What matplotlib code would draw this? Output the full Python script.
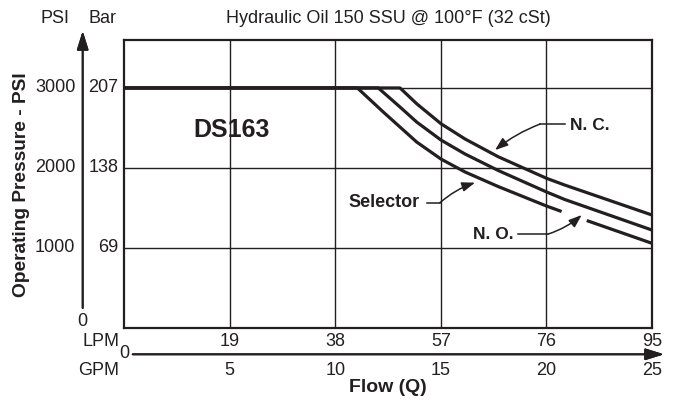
import numpy as np
import matplotlib.pyplot as plt
import matplotlib.transforms as mtransforms

plt.rcParams['font.family'] = ['Liberation Sans', 'DejaVu Sans']

INK = '#231f20'
W, H = 676, 400

# axis ticks: flow in GPM with the matching LPM, pressure in PSI with Bar
gpm_ticks = [5, 10, 15, 20, 25]
lpm_ticks = [19, 38, 57, 76, 95]
psi_ticks = [1000, 2000, 3000]
bar_ticks = [69, 138, 207]

# curves (flow GPM, pressure PSI)
nc_gpm = [0, 13.07, 13.86, 15.01, 16.15, 17.72, 20.01, 20.87, 25.0]
nc_psi = [3000, 3000, 2802, 2552, 2361, 2139, 1869, 1785, 1410]

no_gpm = [0, 12.04, 13.07, 13.86, 15.01, 16.15, 17.72, 20.01, 20.87, 25.0]
no_psi = [3000, 3000, 2761, 2573, 2348, 2173, 1967, 1698, 1604, 1222]

# selector curve is broken where the N.O. arrow crosses it
sel_gpm = [0, 11.05, 12.28, 13.86, 15.01, 16.15, 17.72, 20.01, 20.72, np.nan, 21.91, 25.0]
sel_psi = [3000, 3000, 2698, 2323, 2110, 1948, 1766, 1522, 1454, np.nan, 1341, 1056]


def fx(px):
    return px / W


def fy(py):
    return 1 - py / H


fig = plt.figure(figsize=(6.76, 4.0), dpi=100)
fig.patch.set_facecolor('white')
ax = fig.add_axes([fx(124), fy(327.7), (652 - 124) / W, (327.7 - 40) / H])

ax.set_xlim(0, 25)
ax.set_ylim(0, 3600)
ax.set_xticks(gpm_ticks)
ax.set_yticks(psi_ticks)
ax.tick_params(length=0, labelbottom=False, labelleft=False)
ax.grid(True, color=INK, lw=1.0)
ax.set_axisbelow(True)
for sp in ax.spines.values():
    sp.set_color(INK)
    sp.set_linewidth(1.6)

for g, p in [(nc_gpm, nc_psi), (no_gpm, no_psi), (sel_gpm, sel_psi)]:
    ax.plot(g, p, color=INK, lw=2.3, solid_capstyle='butt', zorder=3)

# tick labels outside the frame
xt = mtransforms.blended_transform_factory(ax.transData, fig.transFigure)
yt = mtransforms.blended_transform_factory(fig.transFigure, ax.transData)
fs = 13
for g, l in zip(gpm_ticks, lpm_ticks):
    ax.text(g, fy(341.7), str(l), transform=xt, ha='center', va='center',
            fontsize=fs, color=INK, clip_on=False)
    ax.text(g, fy(370.7), str(g), transform=xt, ha='center', va='center',
            fontsize=fs, color=INK, clip_on=False)
ax.text(0, fy(354), '0', transform=xt, ha='center', va='center',
        fontsize=fs, color=INK, clip_on=False)
fig.text(fx(119), fy(341.7), 'LPM', ha='right', va='center', fontsize=fs, color=INK)
fig.text(fx(119), fy(370.7), 'GPM', ha='right', va='center', fontsize=fs, color=INK)

for p, b in zip(psi_ticks, bar_ticks):
    ax.text(fx(75.5), p, str(p), transform=yt, ha='right', va='center',
            fontsize=fs, color=INK, clip_on=False)
    ax.text(fx(118.5), p, str(b), transform=yt, ha='right', va='center',
            fontsize=fs, color=INK, clip_on=False)
fig.text(fx(82.7), fy(322), '0', ha='center', va='center', fontsize=fs, color=INK)

fig.text(fx(55), fy(18.3), 'PSI', ha='center', va='center', fontsize=fs, color=INK)
fig.text(fx(103), fy(18.3), 'Bar', ha='center', va='center', fontsize=fs, color=INK)
fig.text(fx(388), fy(18.3), 'Hydraulic Oil 150 SSU @ 100°F (32 cSt)',
         ha='center', va='center', fontsize=fs, color=INK)
fig.text(fx(22), fy(185), 'Operating Pressure - PSI', rotation=90,
         ha='center', va='center', fontsize=13.8, fontweight='bold', color=INK)
fig.text(fx(388), fy(388), 'Flow (Q)', ha='center', va='center',
         fontsize=14, fontweight='bold', color=INK)

# axis arrows
arrow = dict(arrowstyle='-|>,head_length=0.8,head_width=0.25', color=INK, lw=1.4,
             mutation_scale=14, shrinkA=0, shrinkB=0)
fig.add_artist(plt.annotate('', xy=(fx(82.7), fy(31)), xytext=(fx(82.7), fy(308)),
                            xycoords='figure fraction', arrowprops=arrow))
fig.add_artist(plt.annotate('', xy=(fx(664), fy(354.3)), xytext=(fx(132.7), fy(354.3)),
                            xycoords='figure fraction', arrowprops=arrow))

# labels inside the plot
ax.text(3.27, 2470, 'DS163', ha='left', va='center', fontsize=18,
        fontweight='bold', color=INK)

lead = dict(arrowstyle='-|>,head_length=0.6,head_width=0.22', color=INK, lw=1.1,
            mutation_scale=13, shrinkA=0, shrinkB=0, connectionstyle='arc3,rad=0.08')

ax.text(21.12, 2536, 'N. C.', ha='left', va='center', fontsize=12.5,
        fontweight='bold', color=INK)
ax.plot([19.70, 20.90], [2548, 2548], color=INK, lw=1.1)
ax.annotate('', xy=(17.57, 2223), xytext=(19.70, 2548), arrowprops=lead)

ax.text(10.61, 1563, 'Selector', ha='left', va='center', fontsize=13,
        fontweight='bold', color=INK)
ax.plot([14.33, 14.96], [1564, 1564], color=INK, lw=1.1)
ax.annotate('', xy=(16.62, 1815), xytext=(14.96, 1564),
            arrowprops=dict(lead, connectionstyle='arc3,rad=-0.1'))

ax.text(16.52, 1172, 'N. O.', ha='left', va='center', fontsize=12.5,
        fontweight='bold', color=INK)
ax.plot([18.67, 20.09], [1172, 1172], color=INK, lw=1.1)
ax.annotate('', xy=(21.67, 1410), xytext=(20.09, 1172),
            arrowprops=dict(lead, connectionstyle='arc3,rad=0.1'))

fig.savefig('out.png', dpi=100, facecolor='white')
